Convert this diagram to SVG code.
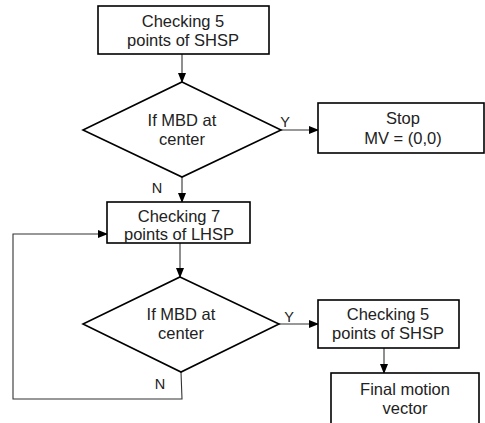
<svg xmlns="http://www.w3.org/2000/svg" width="485" height="423" viewBox="0 0 485 423">
<defs>
<marker id="ah" markerWidth="10" markerHeight="8" refX="9" refY="4" orient="auto" markerUnits="userSpaceOnUse">
<path d="M0,0 L10,4 L0,8 Z" fill="#000"/>
</marker>
<style>
.box{fill:#fff;stroke:#000;stroke-width:1.6}
.t{font-family:"Liberation Sans",Arial,sans-serif;font-size:16.5px;fill:#222;text-anchor:middle}
.lbl{font-family:"Liberation Sans",Arial,sans-serif;font-size:14.5px;fill:#222;text-anchor:middle}
.c{fill:none;stroke:#333;stroke-width:1.1}
</style>
</defs>
<rect width="485" height="423" fill="#fff"/>
<g id="connectors">
<line class="c" x1="182" y1="54" x2="182" y2="82" marker-end="url(#ah)"/>
<line class="c" x1="281" y1="130" x2="318" y2="130" marker-end="url(#ah)"/>
<line class="c" x1="182" y1="177" x2="182" y2="202" marker-end="url(#ah)"/>
<line class="c" x1="180" y1="243" x2="180" y2="277" marker-end="url(#ah)"/>
<line class="c" x1="279" y1="324" x2="318" y2="324" marker-end="url(#ah)"/>
<line class="c" x1="384" y1="348" x2="384" y2="373" marker-end="url(#ah)"/>
<polyline class="c" points="181,372 182,399 13,399 13,234 107,234" marker-end="url(#ah)"/>
<text class="lbl" x="285" y="127">Y</text>
<text class="lbl" x="157" y="193">N</text>
<text class="lbl" x="289" y="322">Y</text>
<text class="lbl" x="160" y="389">N</text>
</g>
<g id="n1">
<rect class="box" x="98" y="6" width="171" height="48"/>
<text class="t" x="183" y="27">Checking 5</text>
<text class="t" x="183" y="46">points of SHSP</text>
</g>
<g id="d1">
<polygon class="box" points="182,82 281,130 182,177 83,130"/>
<text class="t" x="182" y="126">If MBD at</text>
<text class="t" x="182" y="145">center</text>
</g>
<g id="stop">
<rect class="box" x="318" y="103" width="166" height="50"/>
<text class="t" x="403" y="124">Stop</text>
<text class="t" x="403" y="144">MV = (0,0)</text>
</g>
<g id="n2">
<rect class="box" x="107" y="202" width="143" height="41"/>
<text class="t" x="179" y="222">Checking 7</text>
<text class="t" x="179" y="240">points of LHSP</text>
</g>
<g id="d2">
<polygon class="box" points="180,277 279,324 181,372 83,324"/>
<text class="t" x="181" y="320">If MBD at</text>
<text class="t" x="181" y="339">center</text>
</g>
<g id="n3">
<rect class="box" x="318" y="300" width="141" height="48"/>
<text class="t" x="388" y="320">Checking 5</text>
<text class="t" x="388" y="339">points of SHSP</text>
</g>
<g id="n4">
<rect class="box" x="331" y="373" width="148" height="60"/>
<text class="t" x="405" y="395">Final motion</text>
<text class="t" x="405" y="414">vector</text>
</g>
</svg>
